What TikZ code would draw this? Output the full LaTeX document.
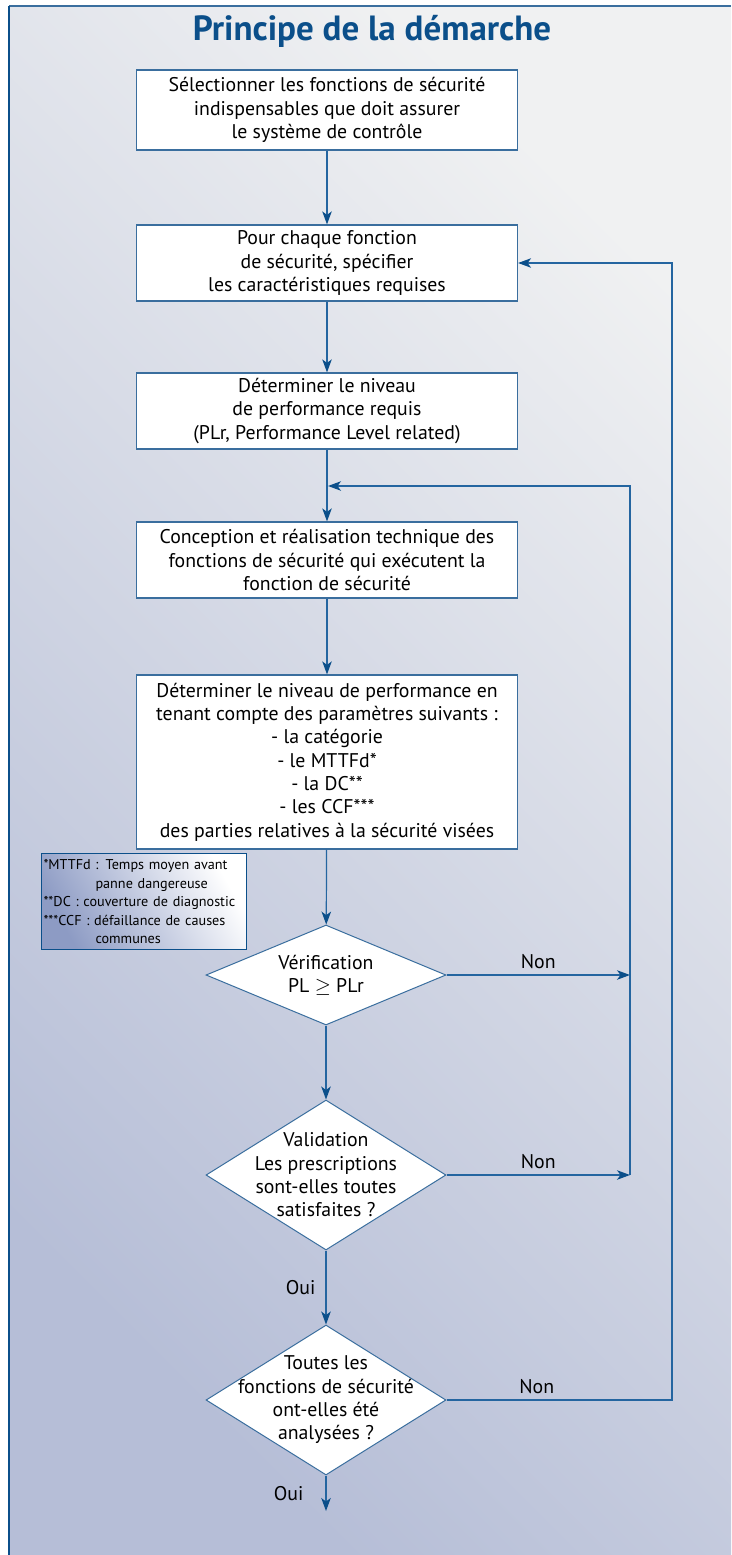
\documentclass[tikz,border=0pt]{standalone}
\usepackage{fontspec}
\setmainfont{PT Sans}
\usetikzlibrary{shapes.geometric,arrows.meta}

\definecolor{inrsblue}{HTML}{0B4F8A}
\definecolor{linkblue}{HTML}{2465A0}
\definecolor{edgeblue}{HTML}{3A6E9E}
\definecolor{bgtop}{HTML}{F0F1F2}
\definecolor{bgbottom}{HTML}{B6BED7}
\definecolor{notedark}{HTML}{8D9BC4}

\newcommand{\bodyfont}{\fontsize{19.8}{23.3}\selectfont}
\newcommand{\notefont}{\fontsize{14.2}{18.5}\selectfont}

\begin{document}
\begin{tikzpicture}[x=1pt, y=-1pt,
	procbox/.style={draw=edgeblue, line width=1.2pt, fill=white, minimum width=381pt, align=center, font=\bodyfont, inner sep=0pt},
	decision/.style={diamond, draw=edgeblue, line width=1pt, fill=white, inner sep=0pt, minimum width=240pt},
	flow/.style={draw=linkblue, line width=1.2pt, -{Stealth[length=13pt, width=9.5pt, inset=3.5pt, color=inrsblue]}},
	answer/.style={font=\bodyfont, text=black, inner sep=2pt}]
	\useasboundingbox (0,0) rectangle (731,1555);

	% fond et cadre
	\shade[top color=bgtop, bottom color=bgbottom, shading angle=-45] (9,6) rectangle (731,1555);
	\draw[edgeblue, line width=2pt] (9,6) -- (731,6);
	\draw[inrsblue, line width=2pt] (9,6) -- (9,1555);

	\node[font=\fontsize{35}{40}\selectfont\bfseries, text=inrsblue] (title) at (372,31) {Principe de la démarche};

	% etapes
	\node[procbox, minimum height=80pt] (select) at (327,110) {Sélectionner les fonctions de sécurité\\indispensables que doit assurer\\le système de contrôle};
	\node[procbox, minimum height=76pt] (specify) at (327,263) {Pour chaque fonction\\de sécurité, spécifier\\les caractéristiques requises};
	\node[procbox, minimum height=76pt] (plr) at (327,411) {Déterminer le niveau\\de performance requis\\(PLr, Performance Level related)};
	\node[procbox, minimum height=76pt] (design) at (327,560) {Conception et réalisation technique des\\fonctions de sécurité qui exécutent la\\fonction de sécurité};
	\node[procbox, minimum height=174pt] (pl) at (327,762) {Déterminer le niveau de performance en\\tenant compte des paramètres suivants :\\- la catégorie\\- le MTTFd*\\- la DC**\\- les CCF***\\des parties relatives à la sécurité visées};

	\node[anchor=north west, draw=inrsblue, line width=1pt, top color=white, bottom color=notedark, shading angle=-60,
		text width=201pt, minimum height=96pt, inner sep=2pt, align=left, font=\notefont] (notes) at (41,853)
		{*MTTFd : Temps moyen avant\\\hspace*{52pt}panne dangereuse\\{}**DC : couverture de diagnostic\\{}***CCF : défaillance de causes\\\hspace*{52pt}communes};

	% decisions
	\node[decision, minimum height=100pt, label={[align=center, font=\bodyfont]center:Vérification\\PL $\geq$ PLr}] (verif) at (326,975) {};
	\node[decision, minimum height=150pt, label={[align=center, font=\bodyfont]center:Validation\\Les prescriptions\\sont-elles toutes\\satisfaites ?}] (valid) at (326,1175) {};
	\node[decision, minimum height=150pt, label={[align=center, font=\bodyfont]center:Toutes les\\fonctions de sécurité\\ont-elles été\\analysées ?}] (alldone) at (326,1400) {};

	\coordinate (loopA) at (630,975);
	\coordinate (loopB) at (630,1175);
	\coordinate (merge) at (327,486);
	\coordinate (loopC) at (672,1400);
	\coordinate (finish) at (326,1511);

	\draw[flow] (select) -- (specify);
	\draw[flow] (specify) -- (plr);
	\draw[flow] (plr) -- (design);
	\draw[flow] (design) -- (pl);
	\draw[flow] (pl) -- (verif);
	\draw[flow] (verif) -- (valid);
	\draw[flow] (valid) -- node[answer, left=8pt] {Oui} (alldone);
	\draw[flow] (alldone) -- node[answer, left=20pt] {Oui} (finish);

	\draw[flow] (verif.east) -- node[answer, above=4pt] {Non} (loopA);
	\draw[flow] (valid.east) -- node[answer, above=4pt] {Non} (loopB);
	\draw[flow, shorten >=1pt] (loopB) -- (merge -| loopB) -- (merge);
	\draw[flow] (alldone.east) -- node[answer, above=4pt, pos=0.4] {Non} (loopC) |- (specify.east);
\end{tikzpicture}
\end{document}
